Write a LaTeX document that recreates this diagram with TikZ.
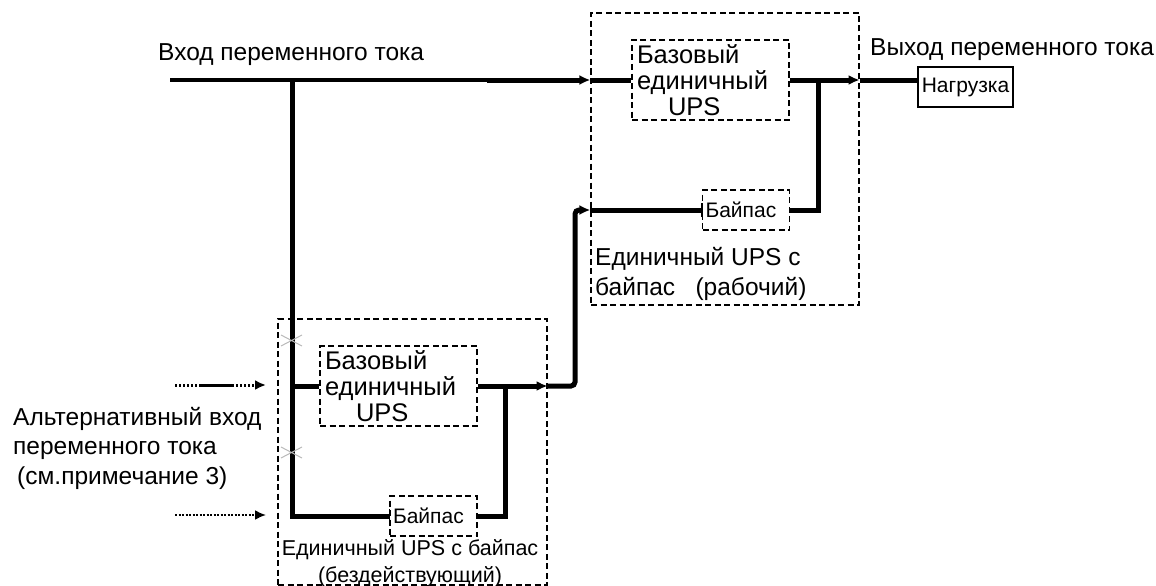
\documentclass[tikz,border=0pt]{standalone}
\usepackage{fontspec}
\setmainfont{Liberation Sans}
\usetikzlibrary{arrows.meta, positioning}

\begin{document}
\begin{tikzpicture}[x=1pt, y=-1pt,
  frame/.style={draw, dash pattern=on 6pt off 3.5pt, line width=1.2pt, inner sep=0pt},
  upsbox/.style={frame, minimum width=157pt, minimum height=80pt, text width=147pt, align=left, font=\fontsize{25.5}{26}\selectfont},
  bypbox/.style={frame, minimum width=87pt, minimum height=40pt, text width=81pt, align=left, font=\fontsize{21}{24}\selectfont},
  loadbox/.style={draw, line width=1.2pt, minimum width=95pt, minimum height=40pt, inner sep=0pt, font=\fontsize{21}{24}\selectfont},
  bus/.style={line width=5pt},
  arr/.style={bus, -{Latex[length=11pt,width=10pt]}},
  altdash/.style={line width=3pt, dash pattern=on 2pt off 2pt on 2pt off 2pt on 2pt off 2pt on 2pt off 2pt on 2pt off 2pt on 2pt off 2pt on 35pt off 2pt on 2pt off 2pt on 2pt off 2pt on 2pt off 2pt, -{Latex[length=11pt,width=10pt]}},
  altdot/.style={line width=2pt, dash pattern=on 2pt off 1.5pt, -{Latex[length=11pt,width=10pt]}},
  xmark/.style={gray!55, line width=1pt},
  tick/.style={line width=1.5pt},
  lbl/.style={font=\fontsize{24.5}{29.5}\selectfont, inner sep=0pt, align=left, anchor=west}
]
\useasboundingbox (0,0) rectangle (1156,586);

% boxes
\node[frame, minimum width=268pt, minimum height=292pt] (upOuter) at (725,159) {};
\node[upsbox] (baseU) at (710.5,80) {Базовый\\единичный\\\hspace*{31pt}UPS};
\node[bypbox] (bypU) at (746,210) {Байпас};
\node[frame, minimum width=269pt, minimum height=266pt] (loOuter) at (412.5,452) {};
\node[upsbox] (baseL) at (398.5,386) {Базовый\\единичный\\\hspace*{31pt}UPS};
\node[bypbox] (bypL) at (433.5,516) {Байпас};
\node[loadbox] (load) at (965.5,87) {Нагрузка};

% labels
\node[lbl] (acInLbl) at (158,55) {Вход переменного тока};
\node[lbl] (acOutLbl) at (870,50) {Выход переменного тока};
\node[lbl] (altLbl) at (13,448) {Альтернативный вход\\переменного тока\\\hspace*{4pt}(см.примечание 3)};
\node[lbl] (upCap) at (595,274) {Единичный UPS с\\байпас\ \ \ (рабочий)};
\node[lbl, align=center, anchor=center, font=\fontsize{21.5}{27}\selectfont] (loCap) at (410,563.5) {Единичный UPS с байпас\\(бездействующий)};

% junction points
\coordinate (acIn) at (170,80);
\coordinate (tap) at (292,80);
\coordinate (step) at (487,80);
\coordinate (jU) at (818,80);
\coordinate (jL) at (505,386);
\coordinate (riser) at (575,386);
\coordinate (altA) at (175,385);
\coordinate (altB) at (175,515);

% main input and bus
\draw[line width=4pt] (acIn) -- (step);
\draw[arr] (step) -- (acIn -| upOuter.west);
\draw[bus] (acIn -| upOuter.west) -- (baseU.west);
\draw[bus] (tap) |- (bypL.west);
\draw[bus] (tap |- baseL.west) -- (baseL.west);

% idle unit
\draw[arr] (baseL.east) -- (baseL.east -| loOuter.east);
\draw[bus] (bypL.east) -| (jL);
\draw[arr, rounded corners=4pt] (baseL.east -| loOuter.east) -| (riser |- bypU.west) -- (bypU.west -| upOuter.west);
\draw[bus] (bypU.west -| upOuter.west) -- (bypU.west);

% working unit
\draw[arr] (baseU.east) -- (baseU.east -| upOuter.east);
\draw[bus] (bypU.east) -| (jU);
\draw[bus] (baseU.east -| upOuter.east) -- (baseU.east -| load.west);

% ticks at bypass inputs
\draw[tick] ([yshift=-7pt]bypU.west) -- ([yshift=7pt]bypU.west);
\draw[tick] ([yshift=-7pt]bypL.west) -- ([yshift=7pt]bypL.west);

% alternative input
\draw[altdash] (altA) -- (altA -| 266,0);
\draw[altdot] (altB) -- (altB -| 266,0);

% crosses
\draw[xmark] (281,335) -- (302,346) (281,346) -- (302,335);
\draw[xmark] (281,447) -- (302,458) (281,458) -- (302,447);

\end{tikzpicture}
\end{document}
